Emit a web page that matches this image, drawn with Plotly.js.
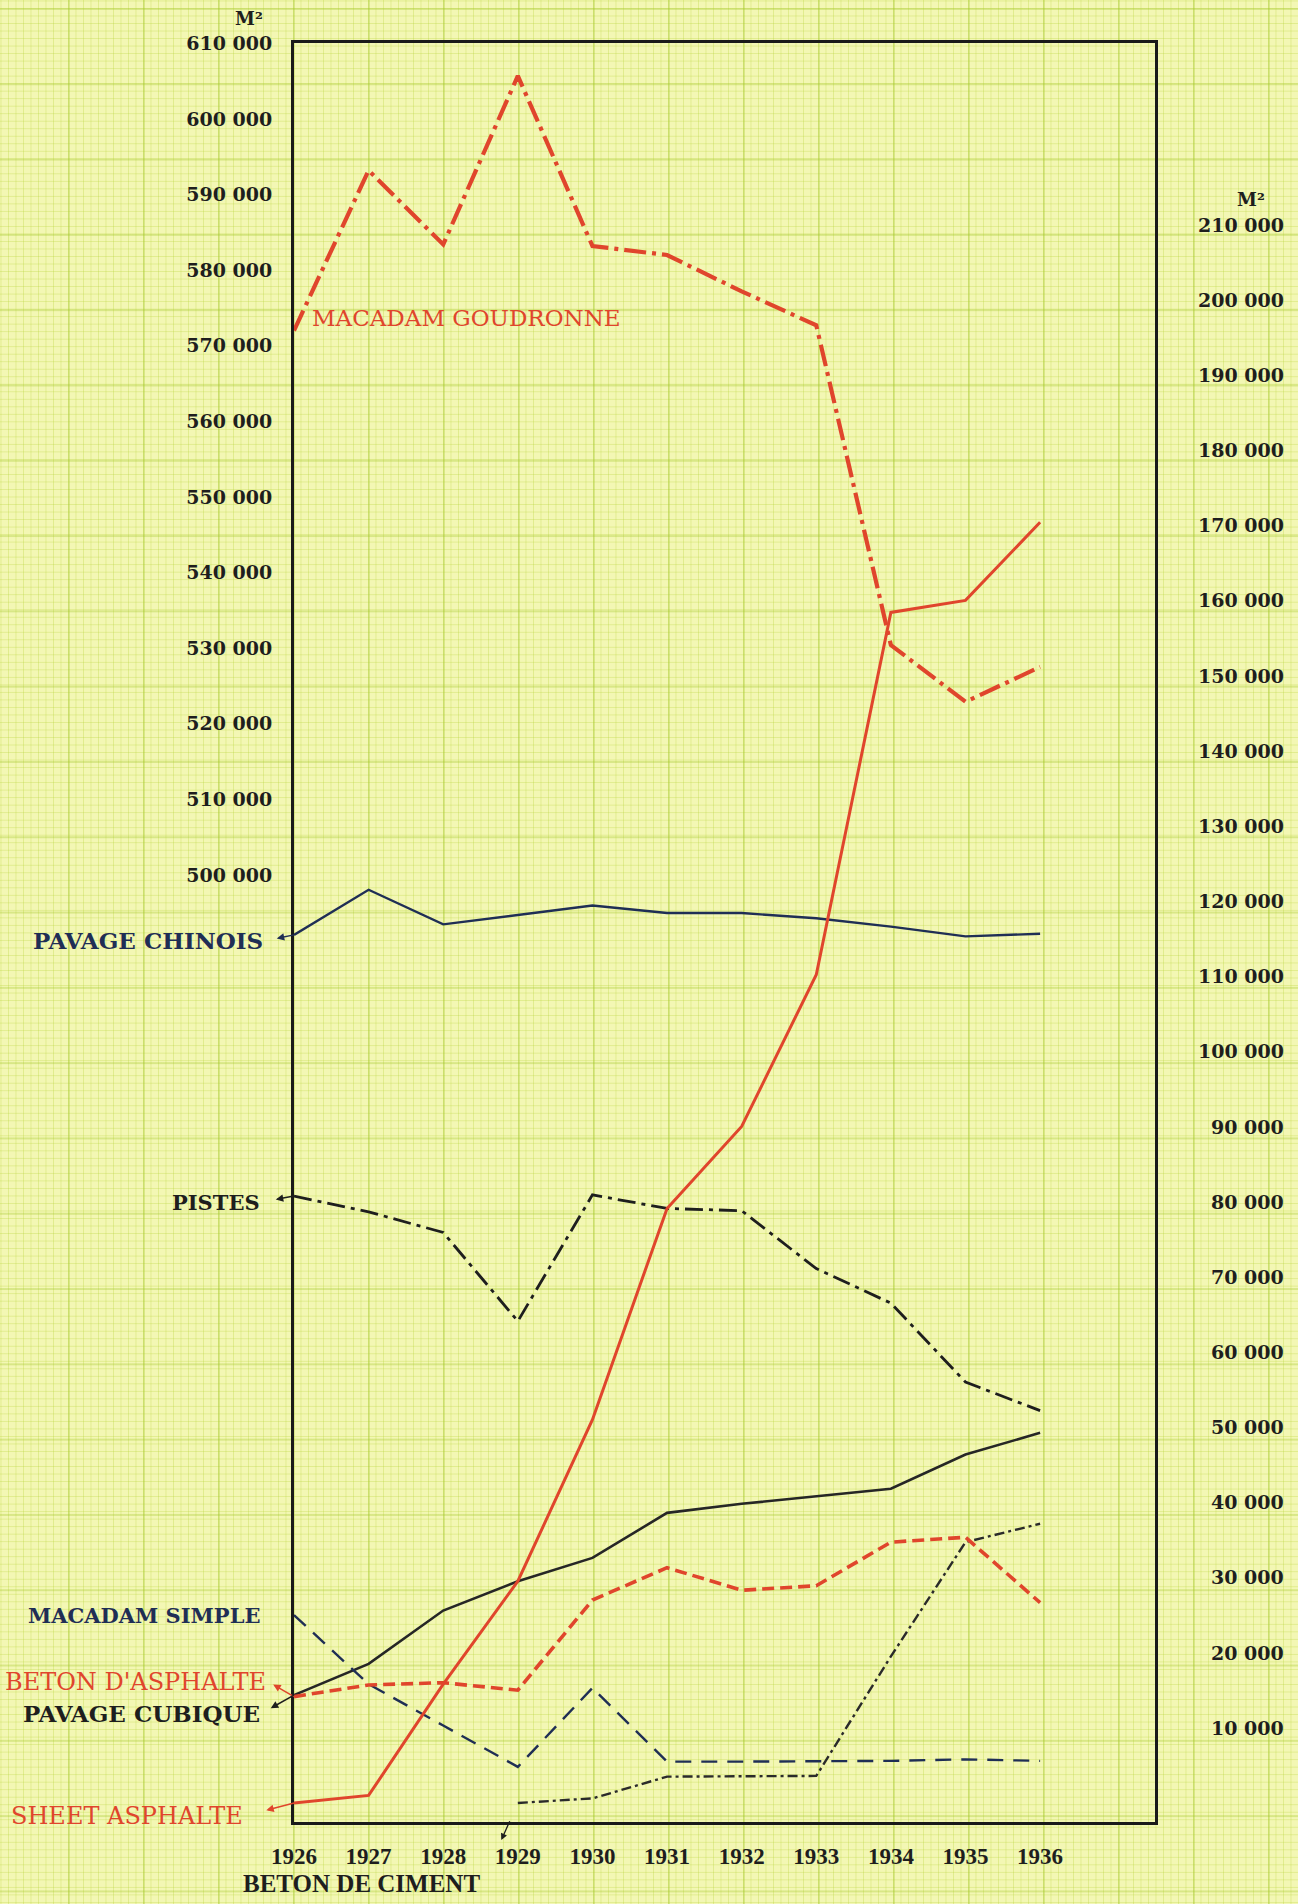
<!DOCTYPE html>
<html>
<head>
<meta charset="utf-8">
<script src="https://cdn.plot.ly/plotly-3.0.1.min.js"></script>
<style>
html,body{margin:0;padding:0;width:1298px;height:1904px;overflow:hidden;}
body{
  background-color:#f3f7b4;
  background-image:
    linear-gradient(to right, rgba(165,200,45,0.34) 2px, transparent 2px),
    linear-gradient(to bottom, rgba(165,200,45,0.34) 2px, transparent 2px),
    linear-gradient(to right, rgba(185,212,60,0.32) 1px, transparent 1px),
    linear-gradient(to bottom, rgba(185,212,60,0.32) 1px, transparent 1px);
  background-size:75px 75.3px,75px 75.3px,7.5px 7.53px,7.5px 7.53px;
  background-position:68px 8px,68px 8px,68px 8px,68px 8px;
}
#chart{width:1298px;height:1904px;}
</style>
</head>
<body>
<div id="chart"></div>
<script>
// ---------- data ----------
const years = [1926, 1927, 1928, 1929, 1930, 1931, 1932, 1933, 1934, 1935, 1936];
const yearLabels = ["1926", "1927", "1928", "1929", "1930", "1931", "1932", "1933", "1934", "1935", "1936"];

// left axis (m²)
const macadamGoudronne = [572000, 593200, 583400, 605700, 583200, 582000, 577200, 572700, 530400, 522900, 527500];

// right axis (m²)
const sheetAsphalte   = [0, 1000, 15800, 29500, 51000, 79100, 90000, 110200, 158400, 160000, 170400];
const pavageChinois   = [115500, 121500, 116900, 118200, 119400, 118400, 118400, 117700, 116600, 115300, 115650];
const pistes          = [80750, 78650, 75900, 64100, 80900, 79100, 78800, 71100, 66500, 56000, 52200];
const pavageCubique   = [14350, 18500, 25600, 29500, 32600, 38600, 39800, 40850, 41800, 46350, 49250];
const betonAsphalte   = [14150, 15700, 16000, 15000, 27000, 31300, 28300, 28900, 34700, 35350, 26650];
const macadamSimple   = [25000, 15800, 10300, 4800, 15300, 5500, 5500, 5500, 5600, 5800, 5600];
const betonCiment     = [null, null, null, 0, 600, 3500, 3500, 3600, 19500, 34700, 37150];

const leftTicks  = [500000, 510000, 520000, 530000, 540000, 550000, 560000, 570000, 580000, 590000, 600000, 610000];
const leftLabels = ["500 000", "510 000", "520 000", "530 000", "540 000", "550 000", "560 000", "570 000", "580 000", "590 000", "600 000", "610 000"];
const rightTicks  = [10000, 20000, 30000, 40000, 50000, 60000, 70000, 80000, 90000, 100000, 110000, 120000, 130000, 140000, 150000, 160000, 170000, 180000, 190000, 200000, 210000];
const rightLabels = ["10 000", "20 000", "30 000", "40 000", "50 000", "60 000", "70 000", "80 000", "90 000", "100 000", "110 000", "120 000", "130 000", "140 000", "150 000", "160 000", "170 000", "180 000", "190 000", "200 000", "210 000"];
const unitLabel = "M²";

const seriesNames = {
  mg: "MACADAM GOUDRONNE", sa: "SHEET ASPHALTE", pc: "PAVAGE CHINOIS", pi: "PISTES",
  pcu: "PAVAGE CUBIQUE", ba: "BETON D'ASPHALTE", ms: "MACADAM SIMPLE", bc: "BETON DE CIMENT"
};

// ---------- styles ----------
const RED = "#e0452c";
const NAVY = "#1f2e55";
const DARK = "#1e1e1e";
const SERIF = "DejaVu Serif";
const TIMES = "Liberation Serif";

function line(name, y, axis, color, width, dash) {
  return {type: "scatter", mode: "lines", name: name, x: years, y: y, yaxis: axis,
          line: {color: color, width: width, dash: dash}, connectgaps: false, hoverinfo: "skip"};
}

const traces = [
  line(seriesNames.pc, pavageChinois, "y2", NAVY, 2.4, "solid"),
  line(seriesNames.pi, pistes, "y2", DARK, 2.8, "18px,6px,4px,6px"),
  line(seriesNames.pcu, pavageCubique, "y2", "#262626", 2.6, "solid"),
  line(seriesNames.ms, macadamSimple, "y2", NAVY, 2.4, "16px,10px"),
  line(seriesNames.bc, betonCiment, "y2", "#2a2a2a", 2.4, "10px,4px,3px,4px"),
  line(seriesNames.ba, betonAsphalte, "y2", RED, 3.6, "12px,6px"),
  line(seriesNames.sa, sheetAsphalte, "y2", RED, 3, "solid"),
  line(seriesNames.mg, macadamGoudronne, "y", RED, 4.2, "22px,6px,4px,6px")
];

const annotations = [];

// right axis labels, right-aligned
rightTicks.forEach(function (v, i) {
  annotations.push({text: rightLabels[i], xref: "paper", yref: "y2", x: 1.152, y: v,
    xanchor: "right", yanchor: "middle", showarrow: false,
    font: {family: SERIF, size: 19, color: DARK, weight: "bold"}});
});

// unit labels
annotations.push({text: unitLabel, xref: "paper", yref: "paper", x: -0.052, y: 1.014,
  xanchor: "center", yanchor: "middle", showarrow: false,
  font: {family: SERIF, size: 18, color: DARK, weight: "bold"}});
annotations.push({text: unitLabel, xref: "paper", yref: "paper", x: 1.112, y: 0.912,
  xanchor: "center", yanchor: "middle", showarrow: false,
  font: {family: SERIF, size: 18, color: DARK, weight: "bold"}});

// series labels
annotations.push({text: seriesNames.mg, xref: "paper", yref: "paper", x: 0.0186, y: 0.8454,
  xanchor: "left", yanchor: "middle", showarrow: false,
  font: {family: SERIF, size: 23, color: RED}});

function sideLabel(text, yval, ax, ay, color, size, bold, standoff) {
  return {text: text, xref: "x", yref: "y2", x: years[0], y: yval, ax: ax, ay: ay,
    xanchor: "right", yanchor: "middle", showarrow: true, arrowside: "start",
    startarrowhead: 2, startarrowsize: 1, arrowwidth: 1.5, arrowcolor: color, startstandoff: standoff,
    font: {family: SERIF, size: size, color: color, weight: bold ? "bold" : "normal"}};
}
annotations.push(sideLabel(seriesNames.pc, pavageChinois[0], -29, 6, NAVY, 23, true, 12));
annotations.push(sideLabel(seriesNames.pi, pistes[0], -32, 6, DARK, 21, true, 14));
annotations.push(sideLabel(seriesNames.ba, betonAsphalte[0], -26, -15, RED, 24, false, 6));
annotations.push(sideLabel(seriesNames.pcu, pavageCubique[0], -32, 18, DARK, 23, true, 10));
annotations.push(sideLabel(seriesNames.sa, sheetAsphalte[0], -49, 13, RED, 24, false, 22));
annotations.push({text: seriesNames.ms, xref: "x", yref: "y2", x: years[0], y: macadamSimple[0],
  xanchor: "right", yanchor: "middle", xshift: -32, showarrow: false,
  font: {family: SERIF, size: 21, color: NAVY, weight: "bold"}});
annotations.push({text: seriesNames.bc, xref: "x", yref: "y2", x: years[3], y: betonCiment[3],
  ax: -36, ay: 81, xanchor: "right", yanchor: "middle", showarrow: true, arrowside: "start",
  startarrowhead: 2, startarrowsize: 1, arrowwidth: 1.3, arrowcolor: DARK, startstandoff: 48, standoff: 20,
  font: {family: TIMES, size: 25, color: DARK, weight: "bold"}});

const layout = {
  width: 1298, height: 1904,
  margin: {l: 294, r: 143, t: 43, b: 82},
  paper_bgcolor: "rgba(0,0,0,0)", plot_bgcolor: "rgba(0,0,0,0)",
  showlegend: false, hovermode: false,
  xaxis: {range: [1926, 1937.54], tickvals: years, ticktext: yearLabels,
    showgrid: false, zeroline: false, showline: true, mirror: true, linecolor: "#1a1a1a", linewidth: 3,
    ticks: "outside", ticklen: 11, tickcolor: "rgba(0,0,0,0)",
    tickfont: {family: TIMES, size: 23, color: DARK, weight: "bold"}},
  yaxis: {range: [374700, 610050], tickvals: leftTicks, ticktext: leftLabels,
    showgrid: false, zeroline: false, showline: true, mirror: true, linecolor: "#1a1a1a", linewidth: 3,
    ticks: "outside", ticklen: 15, tickcolor: "rgba(0,0,0,0)",
    tickfont: {family: SERIF, size: 19, color: DARK, weight: "bold"}},
  yaxis2: {range: [-2534, 234162], overlaying: "y", side: "right",
    showgrid: false, zeroline: false, showticklabels: false, showline: false, ticks: ""},
  annotations: annotations
};

Plotly.newPlot("chart", traces, layout, {displayModeBar: false, staticPlot: true});
</script>
</body>
</html>
